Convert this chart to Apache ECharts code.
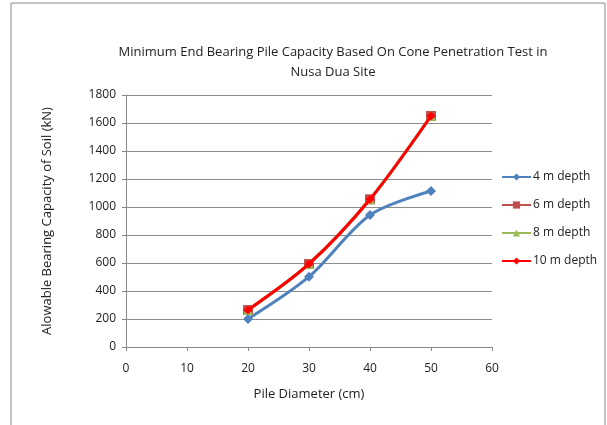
<!DOCTYPE html>
<html>
<head>
<meta charset="utf-8">
<script src="https://cdn.jsdelivr.net/npm/echarts@6/dist/echarts.min.js"></script>
<style>
  html, body { margin: 0; padding: 0; background: #fff; }
  #chart { width: 607px; height: 425px; }
</style>
</head>
<body>
<div id="chart"></div>
<script>
// Pile diameters (cm) and bearing capacities (kN) per test depth
const diameters = [20, 30, 40, 50];
const depth4 = [200, 502, 943, 1114];
const depth6 = [264, 593, 1055, 1650];
const depth8 = [264, 593, 1055, 1650];
const depth10 = [264, 593, 1055, 1650];
const seriesNames = ['4 m depth', '6 m depth', '8 m depth', '10 m depth'];

const pairs = vals => diameters.map((d, i) => [d, vals[i]]);
const font = '"Open Sans", "Noto Sans", sans-serif';

const chart = echarts.init(document.getElementById('chart'));

function lineSeries(name, vals, color, symbol, size, z) {
  return {
    name: name,
    type: 'line',
    smooth: 0.3,
    data: pairs(vals),
    symbol: symbol,
    symbolSize: size,
    z: z,
    lineStyle: { color: color, width: 3 },
    itemStyle: { color: color },
    emphasis: { disabled: true }
  };
}

chart.setOption({
  animation: false,
  title: {
    text: 'Minimum End Bearing Pile Capacity Based On Cone Penetration Test in\nNusa Dua Site',
    left: 328, top: 37, textAlign: 'center',
    textStyle: { fontFamily: font, fontSize: 13, fontWeight: 'normal', color: '#222', lineHeight: 20 }
  },
  graphic: [{
    type: 'rect',
    shape: { x: 11, y: 3, width: 594, height: 440 },
    style: { fill: 'none', stroke: '#8c8c8c', lineWidth: 1 },
    silent: true
  }],
  legend: {
    orient: 'vertical',
    left: 496, top: 166,
    itemWidth: 29, itemHeight: 9, itemGap: 16,
    textStyle: { fontFamily: font, fontSize: 12, color: '#222', padding: [0, 0, 0, -3] },
    data: seriesNames
  },
  grid: { left: 126, right: 115, top: 95, bottom: 78 },
  xAxis: {
    type: 'value', min: 0, max: 60, interval: 10,
    name: 'Pile Diameter (cm)', nameLocation: 'middle', nameGap: 41,
    nameTextStyle: { fontFamily: font, fontSize: 13, color: '#222' },
    axisLine: { show: true, lineStyle: { color: '#888' } },
    axisTick: { show: true, length: 4, lineStyle: { color: '#888' } },
    axisLabel: { fontFamily: font, fontSize: 12, color: '#222', margin: 16 },
    splitLine: { show: false }
  },
  yAxis: {
    type: 'value', min: 0, max: 1800, interval: 200,
    name: 'Alowable Bearing Capacity of Soil (kN)', nameLocation: 'middle', nameGap: 72,
    nameTextStyle: { fontFamily: font, fontSize: 13, color: '#222' },
    axisLine: { show: true, lineStyle: { color: '#888' } },
    axisTick: { show: true, length: 4, lineStyle: { color: '#888' } },
    axisLabel: { fontFamily: font, fontSize: 12, color: '#222', margin: 10, formatter: v => String(v) },
    splitLine: { show: true, lineStyle: { color: '#8c8c8c', width: 1 } }
  },
  series: [
    lineSeries(seriesNames[0], depth4, '#4F81BD', 'diamond', 10, 2),
    lineSeries(seriesNames[1], depth6, '#C0504D', 'rect', 10, 3),
    lineSeries(seriesNames[2], depth8, '#9BBB59', 'triangle', 10, 4),
    lineSeries(seriesNames[3], depth10, '#FF0000', 'diamond', 9, 5)
  ]
});
</script>
</body>
</html>
